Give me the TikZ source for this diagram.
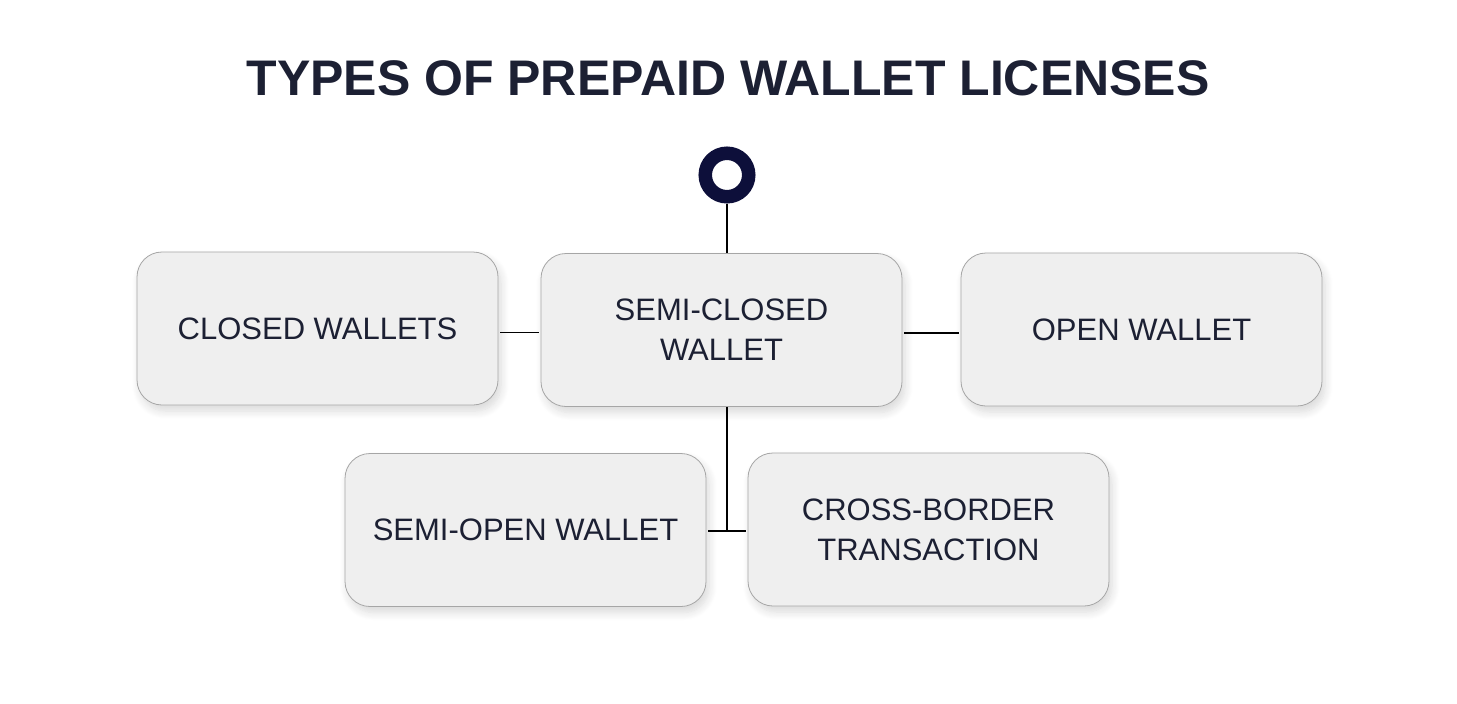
\documentclass[tikz,border=0pt]{standalone}
\usepackage{fontspec}
\setmainfont{Liberation Sans}
\usepackage{tikz}
\usetikzlibrary{shadows.blur}
\definecolor{titleink}{HTML}{1C2033}
\definecolor{ringink}{HTML}{0D0F3A}
\definecolor{boxfill}{HTML}{EFEFEF}
\definecolor{boxline}{HTML}{A6A6A6}
\begin{document}
\begin{tikzpicture}[
		x=1pt, y=-1pt,
		wbox/.style={rectangle, rounded corners=25pt, draw=boxline, line width=0.8pt, fill=boxfill,
			minimum width=361pt, minimum height=153pt, align=center, text=titleink,
			font=\fontsize{31}{40}\selectfont,
			blur shadow={shadow xshift=3pt, shadow yshift=-6pt, shadow opacity=15, shadow blur radius=8pt, shadow blur steps=10}},
		ring/.style={circle, draw=ringink, line width=13.5pt, minimum size=43.5pt, inner sep=0pt},
		link/.style={line width=1.8pt, black}]
	\useasboundingbox (0,0) rectangle (1457,704);
	%% define title
	\node (title) at (728,78) [text=titleink, font=\fontsize{50}{60}\bfseries] {TYPES OF PREPAID WALLET LICENSES};
	%% define boxes
	\node (ring) at (727,175) [ring] {};
	\node (closed) at (317.5,328.5) [wbox] {CLOSED WALLETS};
	\node (semi) at (721.5,330) [wbox] {SEMI-CLOSED\\WALLET};
	\node (open) at (1141.5,329.5) [wbox] {OPEN WALLET};
	\node (semiopen) at (525.5,530) [wbox] {SEMI-OPEN WALLET};
	\node (cross) at (928.5,529.5) [wbox] {CROSS-BORDER\\TRANSACTION};
	\coordinate (joint) at (727,531);
	%% define links
	\draw[link] (ring.south) -- (ring.south |- semi.north);
	\draw[link, shorten <=2pt, shorten >=2pt] ([yshift=-4pt]closed.east) -- ([yshift=-4pt]closed.east -| semi.west);
	\draw[link, shorten <=2pt, shorten >=2pt] ([yshift=-3pt]semi.east) -- ([yshift=-3pt]semi.east -| open.west);
	\draw[link] (semi.south -| joint) -- (joint);
	\draw[link, shorten <=2pt, shorten >=2pt] (semiopen.east |- joint) -- (cross.west |- joint);
\end{tikzpicture}
\end{document}
